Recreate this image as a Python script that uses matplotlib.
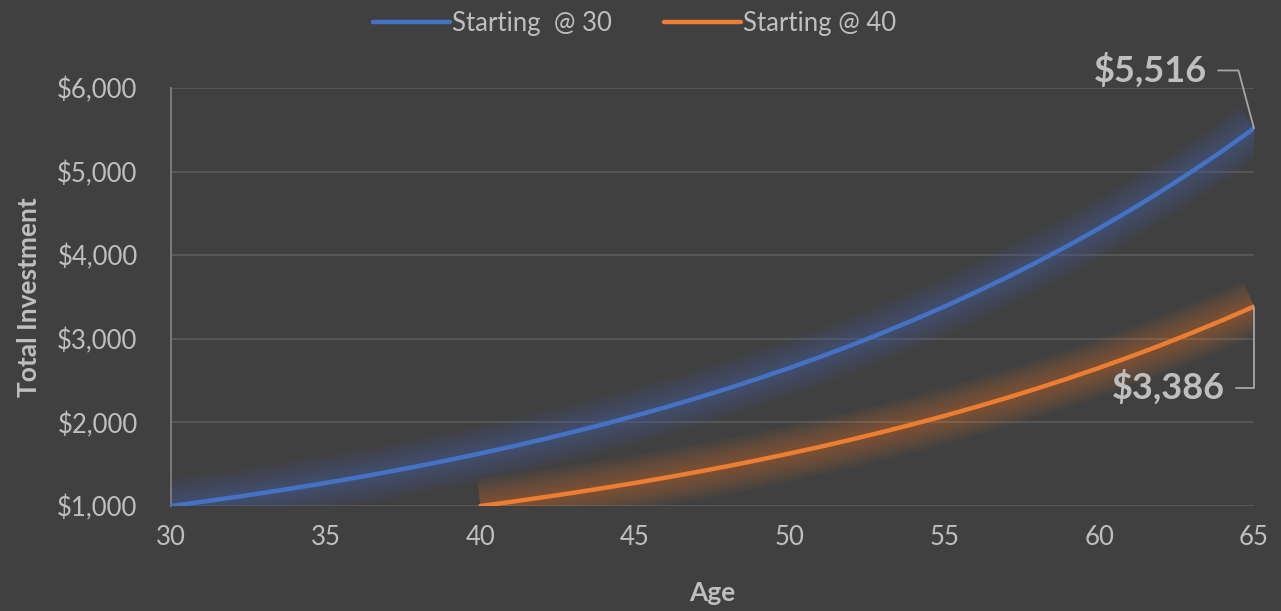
import numpy as np
import matplotlib.pyplot as plt

# values ($, one point per year of age)
ages_30 = list(range(30, 66))
invest_30 = [1000, 1050, 1103, 1158, 1216, 1276, 1340, 1407, 1477, 1551,
             1629, 1710, 1796, 1886, 1980, 2079, 2183, 2292, 2407, 2527,
             2653, 2786, 2925, 3072, 3225, 3386, 3556, 3733, 3920, 4116,
             4322, 4538, 4765, 5003, 5253, 5516]
ages_40 = list(range(40, 66))
invest_40 = [1000, 1050, 1103, 1158, 1216, 1276, 1340, 1407, 1477, 1551,
             1629, 1710, 1796, 1886, 1980, 2079, 2183, 2292, 2407, 2527,
             2653, 2786, 2925, 3072, 3225, 3386]
x_ticks = [30, 35, 40, 45, 50, 55, 60, 65]
y_ticks = [1000, 2000, 3000, 4000, 5000, 6000]

BG = '#404040'
TXT = '#BFBFBF'
GRID = '#595959'
BLUE = '#4472C4'
ORANGE = '#ED7D31'

plt.rcParams['font.family'] = ['Lato', 'DejaVu Sans']

fig = plt.figure(figsize=(12.81, 6.11), dpi=100, facecolor=BG)
ax = fig.add_axes([171 / 1281, 1 - 506 / 611, (1254 - 171) / 1281, (506 - 88) / 611])
ax.set_facecolor(BG)


def glow_line(x, y, color, label):
    # soft halo like the Excel glow effect
    for w in range(40, 6, -3):
        ax.plot(x, y, color=color, lw=w, alpha=0.035, solid_capstyle='butt',
                solid_joinstyle='round', zorder=2)
    ax.plot(x, y, color=color, lw=3.2, solid_capstyle='round', zorder=3, label=label)


glow_line(ages_30, invest_30, BLUE, 'Starting  @ 30')
glow_line(ages_40, invest_40, ORANGE, 'Starting @ 40')

ax.set_xlim(30, 65)
ax.set_ylim(1000, 6000)
ax.set_xticks(x_ticks)
ax.set_yticks(y_ticks)
ax.set_yticklabels(['${:,}'.format(v) for v in y_ticks])
ax.tick_params(colors=TXT, labelsize=18.5, length=0)
ax.tick_params(axis='y', pad=24)
ax.tick_params(axis='x', pad=14)
ax.grid(axis='y', color=GRID, lw=1.3)
ax.set_axisbelow(True)
for s in ['top', 'right', 'bottom']:
    ax.spines[s].set_visible(False)
ax.spines['left'].set_color('#7F7F7F')
ax.spines['left'].set_linewidth(1.3)

ax.set_xlabel('Age', color=TXT, fontsize=19, fontweight='bold', labelpad=22)
ax.set_ylabel('Total Investment', color=TXT, fontsize=19, fontweight='bold', labelpad=12)

leg = ax.legend(loc='upper center', bbox_to_anchor=(0.428, 1.24), ncol=2, frameon=False,
                fontsize=18.5, handlelength=3.0, handletextpad=0.1, columnspacing=2.0)
for t in leg.get_texts():
    t.set_color(TXT)

# end-value callouts
ax.annotate('${:,}'.format(invest_30[-1]), xy=(ages_30[-1], invest_30[-1]),
            xytext=(-47, 58), textcoords='offset pixels', ha='right', va='center',
            fontsize=26, fontweight='bold', color=TXT, annotation_clip=False,
            arrowprops=dict(arrowstyle='-', color='#A6A6A6', lw=1.3, relpos=(1, 0.5),
                            shrinkA=6, shrinkB=0,
                            connectionstyle='angle,angleA=0,angleB=105,rad=0'))
ax.annotate('${:,}'.format(invest_40[-1]), xy=(ages_40[-1], invest_40[-1]),
            xytext=(-29, -81), textcoords='offset pixels', ha='right', va='center',
            fontsize=26, fontweight='bold', color=TXT, annotation_clip=False,
            arrowprops=dict(arrowstyle='-', color='#A6A6A6', lw=1.3, relpos=(1, 0.5),
                            shrinkA=6, shrinkB=0,
                            connectionstyle='angle,angleA=0,angleB=90,rad=0'))

fig.savefig('out.png', dpi=100, facecolor=BG)
